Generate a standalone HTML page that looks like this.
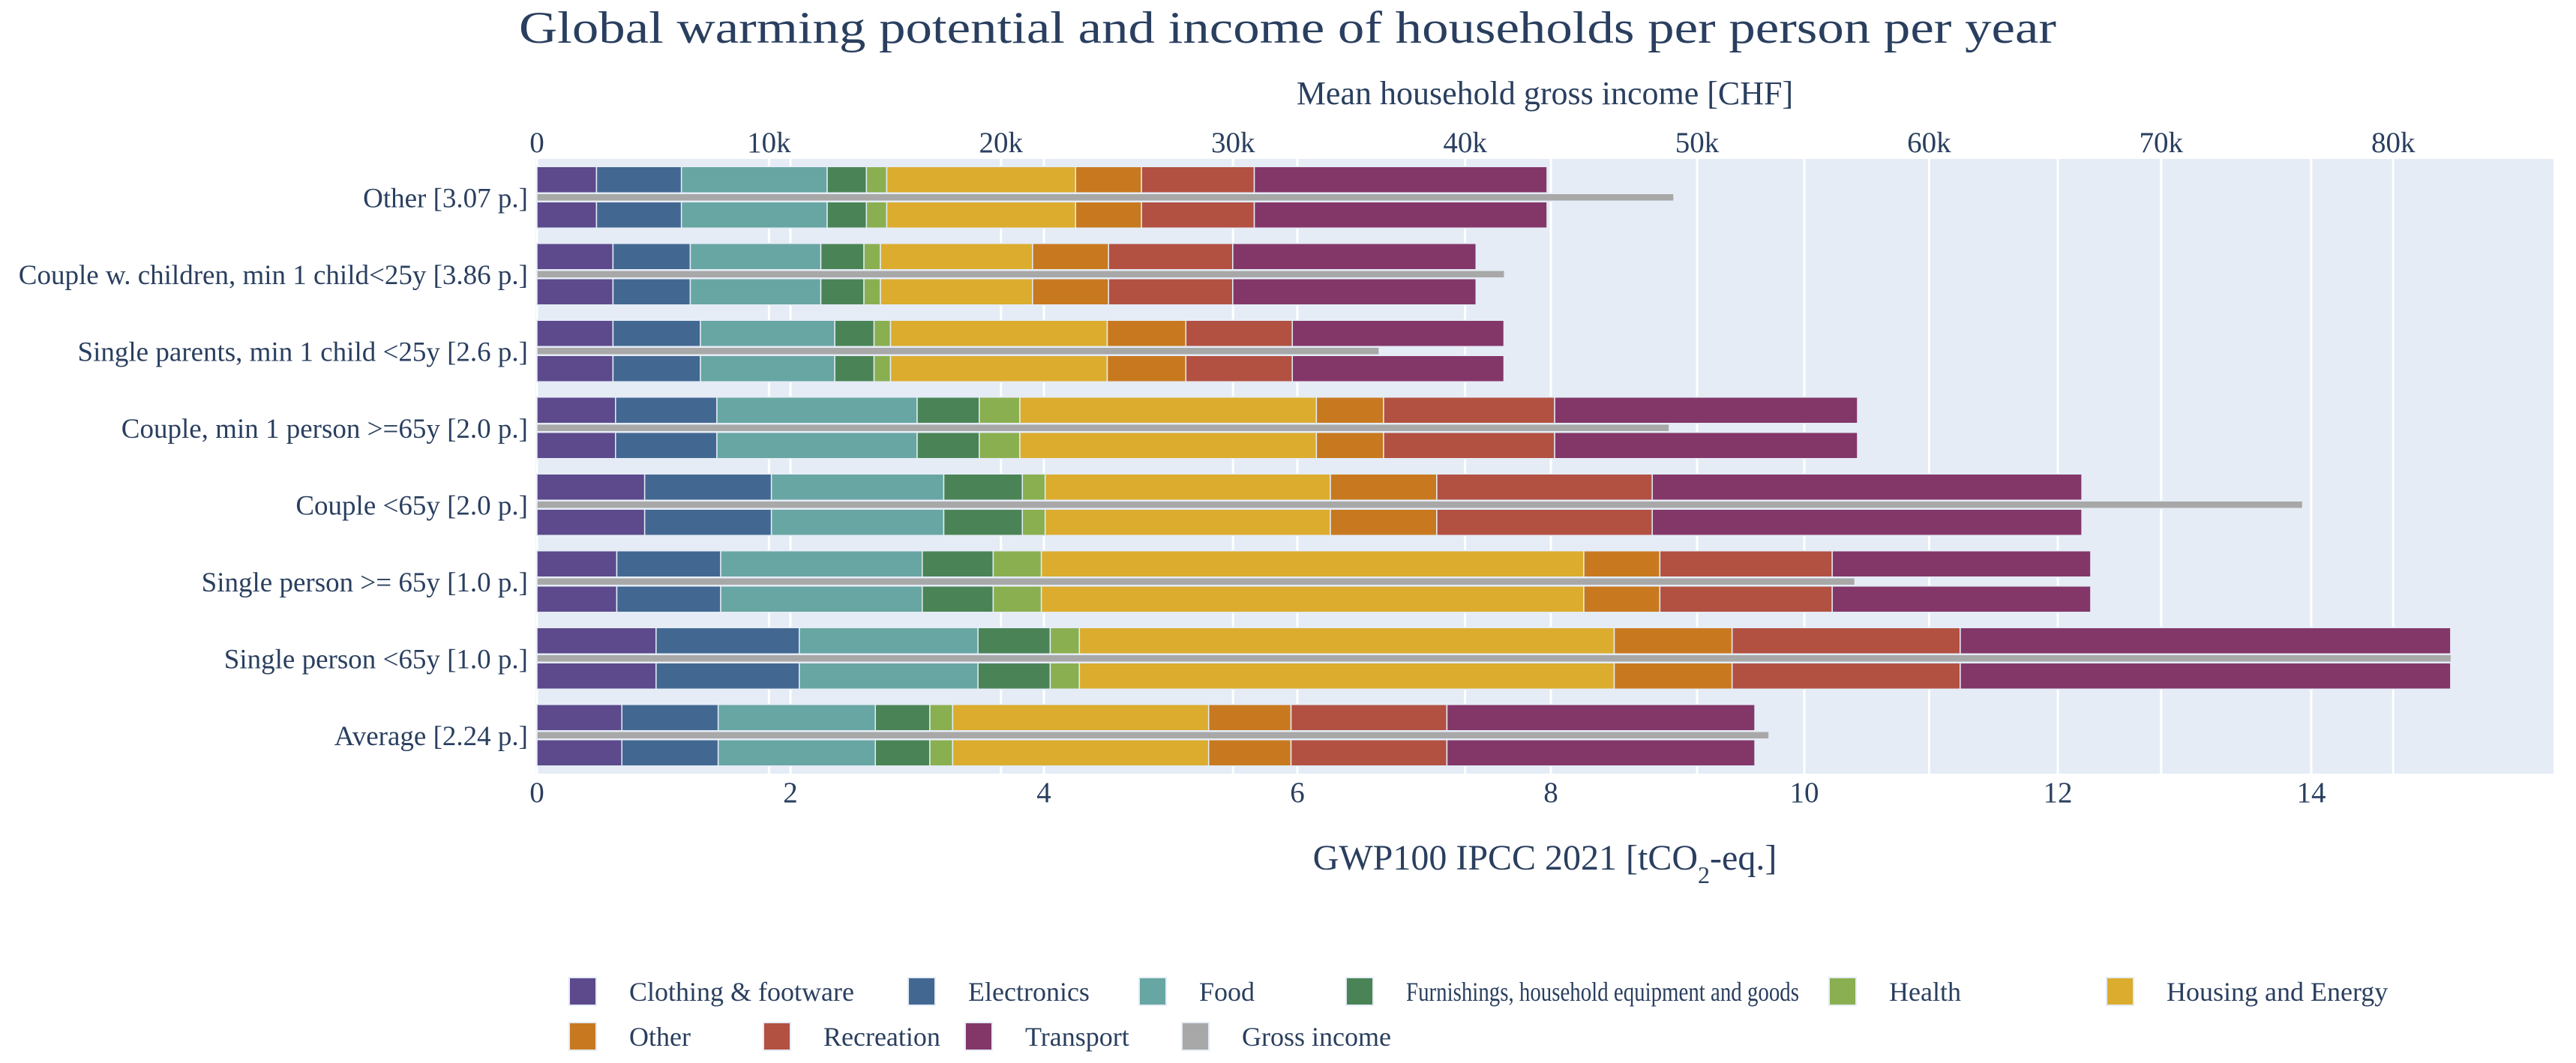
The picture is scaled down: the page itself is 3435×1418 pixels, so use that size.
<!DOCTYPE html>
<html><head><meta charset="utf-8"><style>
html,body{margin:0;padding:0;background:#fff;}
svg{display:block;}
text{font-family:"Liberation Serif",serif;fill:#2a3f5f;}
</style></head><body>
<svg id="chart" width="3435" height="1418" xmlns="http://www.w3.org/2000/svg">
<text x="1717" y="57" font-size="60" text-anchor="middle" textLength="2050" lengthAdjust="spacingAndGlyphs">Global warming potential and income of households per person per year</text>
<text x="2060" y="139" font-size="44" text-anchor="middle">Mean household gross income [CHF]</text>
<text x="2060" y="1160" font-size="48" text-anchor="middle">GWP100 IPCC 2021 [tCO<tspan baseline-shift="sub" font-size="32">2</tspan>-eq.]</text>
<g id="plot"></g>
<g id="legend"></g>
</svg>
<script>
const categories = ["Other [3.07 p.]","Couple w. children, min 1 child<25y [3.86 p.]","Single parents, min 1 child <25y [2.6 p.]","Couple, min 1 person >=65y [2.0 p.]","Couple <65y [2.0 p.]","Single person >= 65y [1.0 p.]","Single person <65y [1.0 p.]","Average [2.24 p.]"];
const seriesNames = ["Clothing & footware","Electronics","Food","Furnishings, household equipment and goods","Health","Housing and Energy","Other","Recreation","Transport"];
const seriesColors = ["#5c4a8c","#426892","#67a6a3","#4a8456","#8aaf50","#dbac2e","#c8791f","#b25142","#833769"];
const clothing = [0.47,0.60,0.60,0.62,0.85,0.63,0.94,0.67];
const electronics = [0.67,0.61,0.69,0.80,1.00,0.82,1.13,0.76];
const food = [1.15,1.03,1.06,1.58,1.36,1.59,1.41,1.24];
const furnishings = [0.31,0.34,0.31,0.49,0.62,0.56,0.57,0.43];
const health = [0.16,0.13,0.13,0.32,0.18,0.38,0.23,0.18];
const housing = [1.49,1.20,1.71,2.34,2.25,4.28,4.22,2.02];
const otherCat = [0.52,0.60,0.62,0.53,0.84,0.60,0.93,0.65];
const recreation = [0.89,0.98,0.84,1.35,1.70,1.36,1.80,1.23];
const transport = [2.31,1.92,1.67,2.39,3.39,2.04,3.87,2.43];
const incomeK = [49.0,41.7,36.3,48.8,76.1,56.8,82.5,53.1];
const gwpTicks = [0,2,4,6,8,10,12,14];
const incomeTicks = [0,10,20,30,40,50,60,70,80];
const incomeTickLabels = ["0","10k","20k","30k","40k","50k","60k","70k","80k"];

const NS="http://www.w3.org/2000/svg";
const L=716, R=3405, T=212, B=1032;
const band=(B-T)/categories.length;
const xG=v=>L+v*169;
const xI=k=>L+k*30.94;
const yC=i=>T+band/2+i*band;
function mk(tag,attrs,parent){const e=document.createElementNS(NS,tag);for(const k in attrs)e.setAttribute(k,attrs[k]);parent.appendChild(e);return e;}
const plot=document.getElementById('plot');
const bg=mk('rect',{x:L-2,y:T,width:R-L+2,height:B-T,fill:'#e5ecf6'},plot);


incomeTicks.forEach((t,i)=>{
  const g=mk('line',{x1:xI(t),x2:xI(t),y1:T,y2:B,stroke:'#fff','stroke-width':3},plot);
  
  
  const tx=mk('text',{x:xI(t),y:203,'font-size':39,'text-anchor':'middle'},plot);
  tx.textContent=incomeTickLabels[i];
  
  
});
gwpTicks.forEach(t=>{
  const g=mk('line',{x1:xG(t),x2:xG(t),y1:T,y2:B,stroke:'#fff','stroke-width':3},plot);
  
  
  const tx=mk('text',{x:xG(t),y:1070,'font-size':39,'text-anchor':'middle'},plot);
  tx.textContent=String(t);
  
  
});
const seriesData=[clothing,electronics,food,furnishings,health,housing,otherCat,recreation,transport];
categories.forEach((c,i)=>{
  const cy=yC(i);
  const lab=mk('text',{x:704,y:cy+13,'font-size':37,'text-anchor':'end'},plot);
  lab.textContent=c;
  
  
  [-41,6].forEach(off=>{
    let acc=0;
    seriesData.forEach((arr,s)=>{
      const x0=xG(acc);acc+=arr[i];const x1=xG(acc);
      const r=mk('rect',{x:x0,y:cy+off,width:x1-x0,height:35,fill:seriesColors[s],stroke:'#e5ecf6','stroke-width':1.5},plot);
      
      
    });
  });
  const ib=mk('rect',{x:L,y:cy-5,width:xI(incomeK[i])-L,height:10,fill:'#a8a8a8',stroke:'#e5ecf6','stroke-width':1.5},plot);
  
  
});
// legend
const leg=document.getElementById('legend');
const legNames=seriesNames.concat(["Gross income"]);
const legColors=seriesColors.concat(["#a8a8a8"]);
const legX=[777,1229,1537,1813,2457,2827,777,1036,1305,1594];
legNames.forEach((n,i)=>{
  const row=i<6?0:1;
  const lx=legX[i];
  const cy=row===0?1322:1382;
  const sw=mk('rect',{x:lx-18,y:cy-18,width:36,height:37,fill:legColors[i],stroke:'#e5ecf6','stroke-width':2},leg);
  
  
  const t=mk('text',{x:lx+62,y:cy+13,'font-size':36},leg);
  t.textContent=n;
  
  
  const maxW=(i<5?legX[i+1]-18-40:9999)-(lx+62);
  if(t.getComputedTextLength()>maxW){t.setAttribute('textLength',maxW);t.setAttribute('lengthAdjust','spacingAndGlyphs');}
});
</script>
</body></html>
